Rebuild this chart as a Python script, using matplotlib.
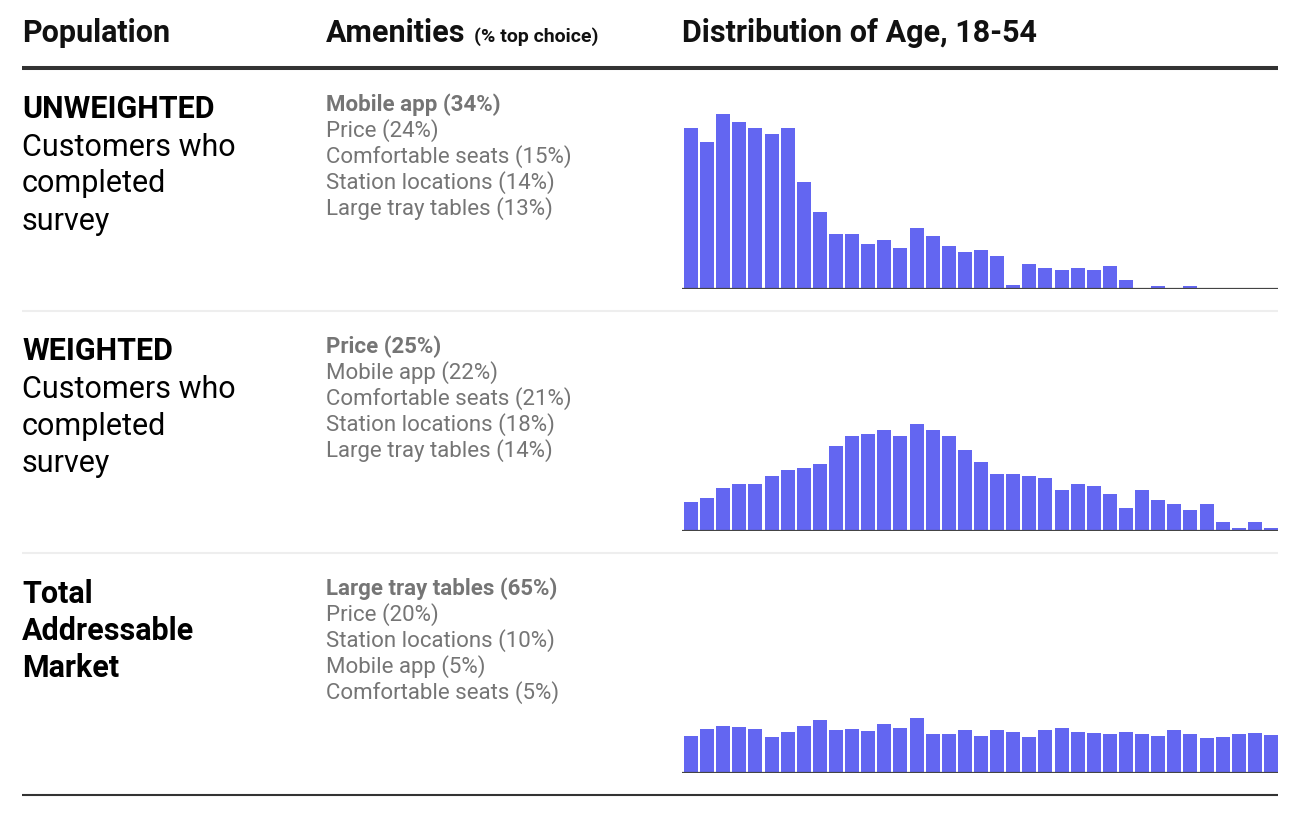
import matplotlib
matplotlib.use('Agg')
import matplotlib.pyplot as plt
from matplotlib.lines import Line2D
import numpy as np

plt.rcParams['font.family'] = ['Roboto', 'DejaVu Sans']

W, H = 1312, 822

ages = list(range(18, 55))

# bar heights (shared scale)
unweighted = [161, 147, 175, 167, 161, 155, 161, 107, 77, 55, 55, 45, 49, 41, 61, 53, 43, 37, 39,
              33, 4, 25, 21, 19, 21, 19, 23, 9, 0, 3, 0, 3, 0, 0, 0, 0, 0]
weighted = [29, 33, 43, 47, 47, 55, 61, 63, 67, 85, 95, 97, 101, 95, 107, 101, 95, 81, 69,
            57, 57, 55, 53, 41, 47, 45, 37, 23, 41, 31, 27, 21, 27, 9, 3, 9, 3]
tam = [37, 44, 47, 46, 44, 36, 41, 47, 53, 43, 44, 42, 49, 45, 55, 39, 39, 43, 37,
       43, 41, 36, 43, 45, 41, 40, 39, 41, 39, 37, 43, 39, 35, 36, 39, 40, 38]

labels_bold = ['UNWEIGHTED', 'WEIGHTED', 'Total\nAddressable\nMarket']
labels_sub = ['Customers who\ncompleted\nsurvey', 'Customers who\ncompleted\nsurvey', '']

amenities = [
    ['Mobile app (34%)', 'Price (24%)', 'Comfortable seats (15%)', 'Station locations (14%)', 'Large tray tables (13%)'],
    ['Price (25%)', 'Mobile app (22%)', 'Comfortable seats (21%)', 'Station locations (18%)', 'Large tray tables (14%)'],
    ['Large tray tables (65%)', 'Price (20%)', 'Station locations (10%)', 'Mobile app (5%)', 'Comfortable seats (5%)'],
]

series = [unweighted, weighted, tam]

BAR = '#6366f1'
GRAY = '#757575'
DARK = '#333333'

fig = plt.figure(figsize=(W / 100, H / 100), dpi=100)


def fx(x):
    return x / W


def fy(y):
    return 1 - y / H


def hline(y, x0, x1, color, lw):
    fig.add_artist(Line2D([fx(x0), fx(x1)], [fy(y), fy(y)], color=color, lw=lw,
                          solid_capstyle='butt'))


# header
fig.text(fx(22), fy(42), 'Population', fontsize=22, fontweight='bold', color='#111111', va='baseline')
t = fig.text(fx(326), fy(42), 'Amenities', fontsize=22, fontweight='bold', color='#111111', va='baseline')
fig.canvas.draw()
bb = t.get_window_extent()
fig.text(fx(326 + bb.width + 8), fy(42), '(% top choice)', fontsize=14, fontweight='bold',
         color='#111111', va='baseline')
fig.text(fx(682), fy(42), 'Distribution of Age, 18-54', fontsize=22, fontweight='bold',
         color='#111111', va='baseline')

hline(68, 22, 1278, DARK, 2.9)

row_h = 242
for i in range(3):
    off = i * row_h
    # population label
    y = 118.5 + off
    for line in labels_bold[i].split('\n'):
        fig.text(fx(22), fy(y), line, fontsize=22, fontweight='bold', color='#000000', va='baseline')
        y += 37
    if labels_sub[i]:
        for line in labels_sub[i].split('\n'):
            fig.text(fx(22), fy(y), line, fontsize=22, color='#000000', va='baseline')
            y += 37

    # amenities list
    for j, item in enumerate(amenities[i]):
        fig.text(fx(326), fy(111 + off + 26 * j), item, fontsize=16,
                 fontweight='bold' if j == 0 else 'normal', color=GRAY, va='baseline')

    # histogram
    base = 289 + off
    top = base - 190
    ax = fig.add_axes([fx(682), fy(base), fx(1278 - 682), (base - top) / H])
    x = np.arange(len(ages))
    ax.bar(x, series[i], width=0.87, color=BAR)
    step = (1278 - 684) / 37
    ax.set_xlim(-0.435 - 2 / step, 36.435)
    ax.set_ylim(0, 190)
    ax.axhline(0, color='#444444', lw=1.6)
    ax.axis('off')

    if i < 2:
        hline(311 + off, 22, 1278, '#eeeeee', 1.5)

hline(795, 22, 1278, DARK, 1.5)

fig.savefig('out.png', dpi=100)
